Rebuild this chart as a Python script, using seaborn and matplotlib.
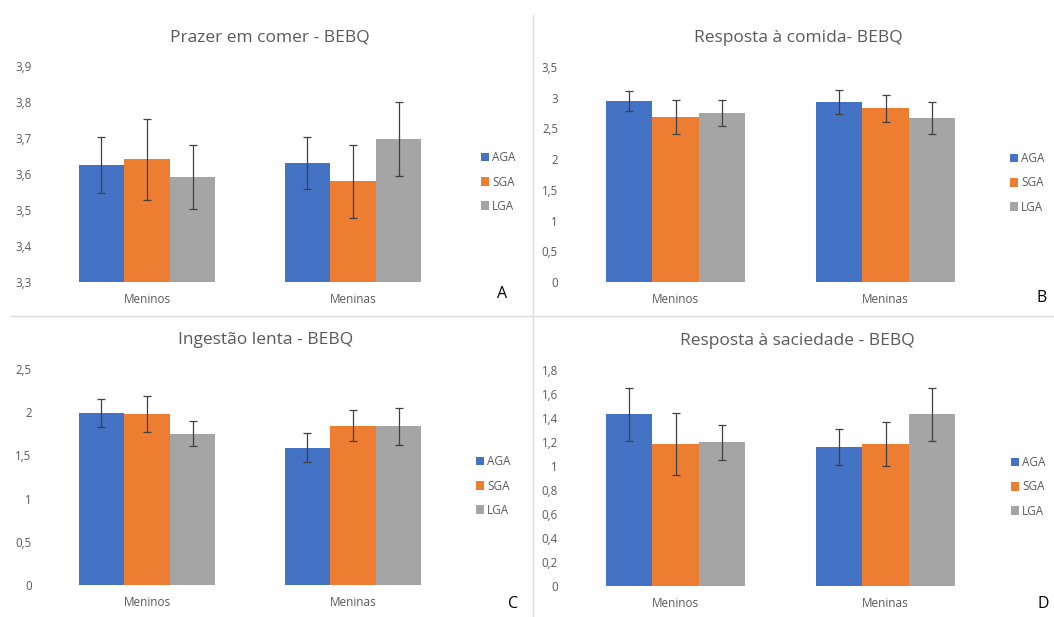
import matplotlib
matplotlib.use("Agg")
import numpy as np
import pandas as pd
import matplotlib.pyplot as plt
import seaborn as sns
from matplotlib.patches import Patch
from matplotlib.lines import Line2D
from matplotlib.ticker import FuncFormatter

sns.set_theme(style="white")
plt.rcParams['font.family'] = ['Open Sans', 'DejaVu Sans']

# categorias
sexos = ["Meninos", "Meninas"]
grupos = ["AGA", "SGA", "LGA"]
cores = ["#4472C4", "#ED7D31", "#A5A5A5"]

# A - Prazer em comer (valores Meninos, Meninas)
prazer_media = {"AGA": [3.625, 3.630], "SGA": [3.641, 3.580], "LGA": [3.592, 3.698]}
prazer_erro = {"AGA": [0.077, 0.072], "SGA": [0.112, 0.101], "LGA": [0.088, 0.103]}

# B - Resposta a comida
comida_media = {"AGA": [2.946, 2.930], "SGA": [2.686, 2.832], "LGA": [2.756, 2.670]}
comida_erro = {"AGA": [0.17, 0.20], "SGA": [0.27, 0.22], "LGA": [0.21, 0.26]}

# C - Ingestao lenta
lenta_media = {"AGA": [1.991, 1.590], "SGA": [1.979, 1.844], "LGA": [1.752, 1.836]}
lenta_erro = {"AGA": [0.16, 0.166], "SGA": [0.205, 0.178], "LGA": [0.147, 0.218]}

# D - Resposta a saciedade
saciedade_media = {"AGA": [1.430, 1.160], "SGA": [1.183, 1.183], "LGA": [1.196, 1.430]}
saciedade_erro = {"AGA": [0.22, 0.149], "SGA": [0.26, 0.18], "LGA": [0.142, 0.22]}

W, H = 1054, 617
fig = plt.figure(figsize=(W / 100, H / 100), dpi=100)
fig.patch.set_facecolor("white")


def px_axes(left, right, top, bottom):
    return fig.add_axes([left / W, 1 - bottom / H, (right - left) / W, (bottom - top) / H])


virgula = FuncFormatter(lambda v, p: f"{round(v, 2):g}".replace(".", ","))


def painel(ax, medias, erros, titulo, title_xy, yticks, leg_xy, letra, letra_xy):
    rows = []
    for g in grupos:
        for i, s in enumerate(sexos):
            rows.append({"sexo": s, "grupo": g, "valor": medias[g][i]})
    df = pd.DataFrame(rows)
    sns.barplot(data=df, x="sexo", y="valor", hue="grupo", order=sexos, hue_order=grupos,
                palette=cores, width=0.665, saturation=1, errorbar=None, legend=False,
                linewidth=0, edgecolor="none", ax=ax)

    # barras de erro
    for cont, g in zip(ax.containers, grupos):
        xs = [b.get_x() + b.get_width() / 2 for b in cont]
        ax.errorbar(xs, medias[g], yerr=erros[g], fmt="none", ecolor="#404040",
                    elinewidth=0.9, capsize=3, capthick=0.9)

    ax.set_xlim(-0.5, 1.5)
    ax.set_ylim(yticks[0], yticks[-1])
    ax.set_yticks(yticks)
    ax.yaxis.set_major_formatter(virgula)
    ax.set_xlabel("")
    ax.set_ylabel("")
    for sp in ax.spines.values():
        sp.set_visible(False)
    ax.tick_params(axis="y", length=0, pad=9, labelsize=8.3, labelcolor="#595959")
    ax.tick_params(axis="x", length=0, pad=8, labelsize=8.5, labelcolor="#595959")
    ax.set_facecolor("white")

    fig.text(title_xy[0] / W, 1 - title_xy[1] / H, titulo, ha="center", va="center",
             fontsize=12.5, color="#595959")
    fig.text(letra_xy[0] / W, 1 - letra_xy[1] / H, letra, ha="center", va="center",
             fontsize=11.5, color="black")

    handles = [Patch(facecolor=c, edgecolor="none", label=g) for c, g in zip(cores, grupos)]
    ax.legend(handles=handles, loc="center left", bbox_to_anchor=(leg_xy[0] / W, 1 - leg_xy[1] / H),
              bbox_transform=fig.transFigure, frameon=False, fontsize=8.5, labelcolor="#595959",
              handlelength=0.7, handleheight=0.7, handletextpad=0.25, labelspacing=0.95,
              borderpad=0, borderaxespad=0)


axA = px_axes(44, 456, 66, 282)
painel(axA, prazer_media, prazer_erro, "Prazer em comer - BEBQ", (270, 38),
       np.round(np.arange(3.3, 3.91, 0.1), 1), (481, 182), "A", (502, 294))

axB = px_axes(570.5, 990.5, 67, 282)
painel(axB, comida_media, comida_erro, "Resposta à comida- BEBQ", (798, 38),
       np.round(np.arange(0, 3.51, 0.5), 1), (1010, 183), "B", (1042, 298))

axC = px_axes(44, 456, 369, 585)
painel(axC, lenta_media, lenta_erro, "Ingestão lenta - BEBQ", (266, 340),
       np.round(np.arange(0, 2.51, 0.5), 1), (476, 486), "C", (513, 604))

axD = px_axes(570.5, 990.5, 370, 586)
painel(axD, saciedade_media, saciedade_erro, "Resposta à saciedade - BEBQ", (797, 341),
       np.round(np.arange(0, 1.81, 0.2), 1), (1011, 487), "D", (1043, 604))

# linhas separadoras
fig.add_artist(Line2D([533 / W, 533 / W], [0, 1 - 15 / H], transform=fig.transFigure,
                      color="#dcdcdc", lw=1))
fig.add_artist(Line2D([10 / W, 1], [1 - 316 / H, 1 - 316 / H], transform=fig.transFigure,
                      color="#dcdcdc", lw=1))

fig.savefig("out.png", dpi=100, facecolor="white")
